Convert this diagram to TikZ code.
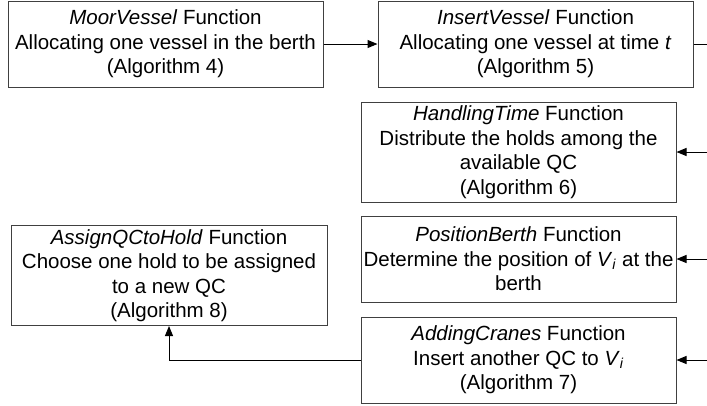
\documentclass[tikz,border=0pt]{standalone}
\usepackage{fontspec}
\setmainfont{Liberation Sans}
\usetikzlibrary{arrows.meta, positioning}

\begin{document}
\begin{tikzpicture}[
    x=1pt, y=-1pt,
    font=\fontsize{20.5}{24.5}\selectfont,
    >={Triangle[length=10pt, width=8pt]},
    % Define styles
    func/.style={rectangle, draw=black!75, line width=1pt, minimum width=315pt, minimum height=86pt, inner sep=0pt, align=center},
    tall/.style={func, minimum height=100pt},
    link/.style={line width=1pt, black}
]
\useasboundingbox (0,0) rectangle (707,405);

% 1. Top row
\node[func] (moor) at (165.5,44) {\textit{MoorVessel} Function\\Allocating one vessel in the berth\\(Algorithm 4)};
\node[func] (insert) at (535.5,44) {\textit{InsertVessel} Function\\Allocating one vessel at time \textit{t}\\(Algorithm 5)};

% 2. Right column
\node[tall] (handling) at (518.5,152) {\textit{HandlingTime} Function\\Distribute the holds among the\\available QC\\(Algorithm 6)};
\node[func] (position) at (518.5,259) {\textit{PositionBerth} Function\\Determine the position of \textit{V}\textsubscript{\textit{i}} at the\\berth};
\node[func] (adding) at (518.5,360) {\textit{AddingCranes} Function\\Insert another QC to \textit{V}\textsubscript{\textit{i}}\\(Algorithm 7)};

% 3. Left box
\node[tall, minimum width=316pt] (assign) at (169,275.5) {\textit{AssignQCtoHold} Function\\Choose one hold to be assigned\\to a new QC\\(Algorithm 8)};

% Loose ends at the right border
\coordinate (out1) at (707,44);
\coordinate (in1) at (707,152);
\coordinate (in2) at (707,259);
\coordinate (in3) at (707,360);

% Connections
\draw[->, link] (moor.east) -- (insert.west);
\draw[link] (insert.east) -- (out1);
\draw[->, link] (in1) -- (handling.east |- in1);
\draw[->, link] (in2) -- (position.east |- in2);
\draw[->, link] (in3) -- (adding.east |- in3);
\draw[->, link] (adding.west |- in3) -| (assign.south);

\end{tikzpicture}
\end{document}
